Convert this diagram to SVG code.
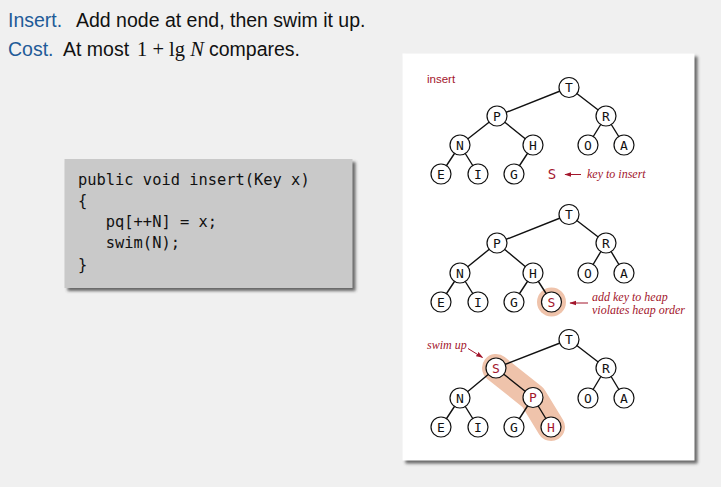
<svg xmlns="http://www.w3.org/2000/svg" width="721" height="487" viewBox="0 0 721 487">
<defs>
<filter id="sh" x="-10%" y="-10%" width="130%" height="130%">
<feGaussianBlur stdDeviation="1.8"/>
</filter>
<marker id="ah" viewBox="0 0 10 10" refX="9" refY="5" markerWidth="7" markerHeight="7" markerUnits="userSpaceOnUse" orient="auto">
<path d="M0,1.5 L10,5 L0,8.5 z" fill="#a3162c"/>
</marker>
</defs>
<style>
.hd{font-family:"Liberation Sans",Arial,sans-serif;font-size:19.5px;fill:#111}
.bl{fill:#1f5b98}
.math{font-family:"Liberation Serif","Times New Roman",serif;font-size:20.5px;fill:#111}
.code{font-family:"DejaVu Sans Mono","Liberation Mono",monospace;font-size:15.4px;fill:#111}
.e{stroke:#111;stroke-width:1.4;fill:none}
.n circle{fill:#fff;stroke:#111;stroke-width:1.2}
.n text{font-family:"DejaVu Sans Mono","Liberation Mono",monospace;font-size:13px;fill:#111;text-anchor:middle}
.n.r text{fill:#a3162c}
.lab{font-family:"Liberation Serif","Times New Roman",serif;font-style:italic;font-size:12px;fill:#a3162c}
.ttl{font-family:"Liberation Sans",Arial,sans-serif;font-size:11.5px;fill:#a3162c}
.arr{stroke:#a3162c;stroke-width:1;fill:none;marker-end:url(#ah)}
.hl{fill:#efc3ab}
</style>
<rect width="721" height="487" fill="#f0f0f0"/>
<g id="header">
<text class="hd" x="8" y="27"><tspan class="bl">Insert.</tspan></text>
<text class="hd" x="76" y="27">Add node at end, then swim it up.</text>
<text class="hd" x="8" y="56"><tspan class="bl">Cost.</tspan></text>
<text class="hd" x="63" y="56">At most</text>
<text class="math" x="137" y="56">1 + lg <tspan font-style="italic">N</tspan></text>
<text class="hd" x="209" y="56">compares.</text>
</g>
<g id="codebox">
<rect x="67.5" y="162" width="288" height="129" fill="#444" opacity="0.8" filter="url(#sh)"/>
<rect x="64.5" y="159" width="288" height="129" fill="#c9c9c9"/>
<text class="code" x="78" y="185">public void insert(Key x)</text>
<text class="code" x="78" y="206">{</text>
<text class="code" x="78" y="227" xml:space="preserve">   pq[++N] = x;</text>
<text class="code" x="78" y="248" xml:space="preserve">   swim(N);</text>
<text class="code" x="78" y="270">}</text>
</g>
<g id="panel">
<rect x="405.5" y="56.5" width="292" height="407" fill="#444" opacity="0.8" filter="url(#sh)"/>
<rect x="402.5" y="53.5" width="292" height="407" fill="#fff"/>
<text class="ttl" x="427" y="83">insert</text>
</g>
<g id="highlights">
<circle cx="551.5" cy="302" r="14.5" class="hl"/>
<path d="M496,368 L533,397.5 L551,427" stroke="#efc3ab" stroke-width="28" stroke-linecap="round" stroke-linejoin="round" fill="none"/>
</g>
<g id="connectors">
<path class="e" d="M569,87.5 L497,116 M569,87.5 L606,116 M497,116 L460,145 M497,116 L533,145 M606,116 L588,145 M606,116 L624,145 M460,145 L441,174 M460,145 L478,174 M533,145 L514,174"/>
<path class="e" d="M569,214.5 L497,243 M569,214.5 L606,243 M497,243 L460,273 M497,243 L533,273 M606,243 L588,273 M606,243 L624,273 M460,273 L441,302 M460,273 L478,302 M533,273 L514,302 M533,273 L551.5,302"/>
<path class="e" d="M569,339.5 L496,368 M569,339.5 L606,368 M496,368 L460,398 M496,368 L533,397.5 M606,368 L588,398 M606,368 L624,398 M460,398 L441,427 M460,398 L478,427 M533,397.5 L514,427 M533,397.5 L551,427"/>
<line class="arr" x1="581" y1="174.5" x2="565" y2="174.5"/>
<line class="arr" x1="588" y1="303" x2="570" y2="303"/>
<line class="arr" x1="468" y1="348.5" x2="482.5" y2="357.5"/>
</g>
<g id="t1">
<g id="t1-T" class="n"><circle cx="569" cy="87.5" r="10"/><text x="569" y="92">T</text></g>
<g id="t1-P" class="n"><circle cx="497" cy="116" r="10"/><text x="497" y="120.5">P</text></g>
<g id="t1-R" class="n"><circle cx="606" cy="116" r="10"/><text x="606" y="120.5">R</text></g>
<g id="t1-N" class="n"><circle cx="460" cy="145" r="10"/><text x="460" y="149.5">N</text></g>
<g id="t1-H" class="n"><circle cx="533" cy="145" r="10"/><text x="533" y="149.5">H</text></g>
<g id="t1-O" class="n"><circle cx="588" cy="145" r="10"/><text x="588" y="149.5">O</text></g>
<g id="t1-A" class="n"><circle cx="624" cy="145" r="10"/><text x="624" y="149.5">A</text></g>
<g id="t1-E" class="n"><circle cx="441" cy="174" r="10"/><text x="441" y="178.5">E</text></g>
<g id="t1-I" class="n"><circle cx="478" cy="174" r="10"/><text x="478" y="178.5">I</text></g>
<g id="t1-G" class="n"><circle cx="514" cy="174" r="10"/><text x="514" y="178.5">G</text></g>
<g id="t1-S" class="n r"><text x="552" y="179" style="font-size:14px">S</text></g>
<text class="lab" x="587" y="178">key to insert</text>
</g>
<g id="t2">
<g id="t2-T" class="n"><circle cx="569" cy="214.5" r="10"/><text x="569" y="219">T</text></g>
<g id="t2-P" class="n"><circle cx="497" cy="243" r="10"/><text x="497" y="247.5">P</text></g>
<g id="t2-R" class="n"><circle cx="606" cy="243" r="10"/><text x="606" y="247.5">R</text></g>
<g id="t2-N" class="n"><circle cx="460" cy="273" r="10"/><text x="460" y="277.5">N</text></g>
<g id="t2-H" class="n"><circle cx="533" cy="273" r="10"/><text x="533" y="277.5">H</text></g>
<g id="t2-O" class="n"><circle cx="588" cy="273" r="10"/><text x="588" y="277.5">O</text></g>
<g id="t2-A" class="n"><circle cx="624" cy="273" r="10"/><text x="624" y="277.5">A</text></g>
<g id="t2-E" class="n"><circle cx="441" cy="302" r="10"/><text x="441" y="306.5">E</text></g>
<g id="t2-I" class="n"><circle cx="478" cy="302" r="10"/><text x="478" y="306.5">I</text></g>
<g id="t2-G" class="n"><circle cx="514" cy="302" r="10"/><text x="514" y="306.5">G</text></g>
<g id="t2-S" class="n r"><circle cx="551.5" cy="302" r="10"/><text x="551.5" y="306.5">S</text></g>
<text class="lab" x="592" y="300.5">add key to heap</text>
<text class="lab" x="592" y="313.5">violates heap order</text>
</g>
<g id="t3">
<g id="t3-T" class="n"><circle cx="569" cy="339.5" r="10"/><text x="569" y="344">T</text></g>
<g id="t3-S" class="n r"><circle cx="496" cy="368" r="10"/><text x="496" y="372.5">S</text></g>
<g id="t3-R" class="n"><circle cx="606" cy="368" r="10"/><text x="606" y="372.5">R</text></g>
<g id="t3-N" class="n"><circle cx="460" cy="398" r="10"/><text x="460" y="402.5">N</text></g>
<g id="t3-P" class="n r"><circle cx="533" cy="397.5" r="10"/><text x="533" y="402">P</text></g>
<g id="t3-O" class="n"><circle cx="588" cy="398" r="10"/><text x="588" y="402.5">O</text></g>
<g id="t3-A" class="n"><circle cx="624" cy="398" r="10"/><text x="624" y="402.5">A</text></g>
<g id="t3-E" class="n"><circle cx="441" cy="427" r="10"/><text x="441" y="431.5">E</text></g>
<g id="t3-I" class="n"><circle cx="478" cy="427" r="10"/><text x="478" y="431.5">I</text></g>
<g id="t3-G" class="n"><circle cx="514" cy="427" r="10"/><text x="514" y="431.5">G</text></g>
<g id="t3-H" class="n r"><circle cx="551" cy="427" r="10"/><text x="551" y="431.5">H</text></g>
<text class="lab" x="427" y="349">swim up</text>
</g>
</svg>
